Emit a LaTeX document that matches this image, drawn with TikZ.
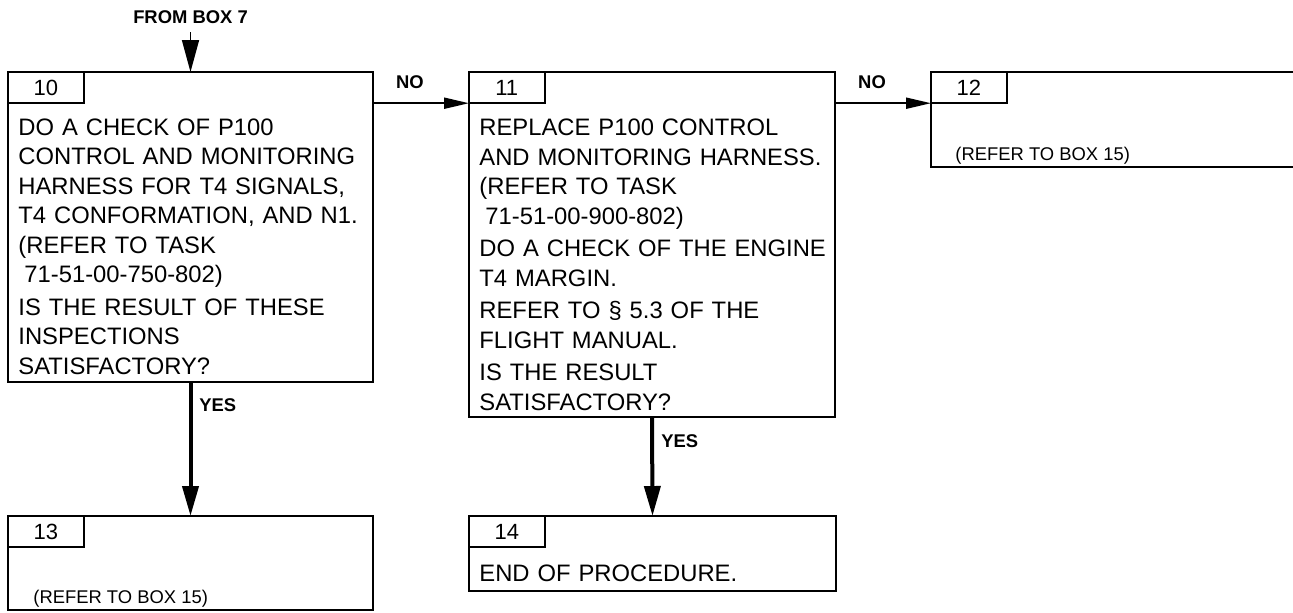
\documentclass[tikz,border=0pt]{standalone}
\usepackage{fontspec}
\setmainfont{Liberation Sans}
\usetikzlibrary{arrows.meta}

\begin{document}
\begin{tikzpicture}[x=0.5pt,y=-0.5pt,
  box/.style={draw,line width=1.4pt,rectangle,inner sep=0pt,outer sep=0pt,anchor=north west},
  tab/.style={draw,line width=0.9pt,rectangle,inner sep=0pt,outer sep=0pt,anchor=north west,
    minimum width=37.8pt,minimum height=15.6pt,font=\fontsize{11}{13}\selectfont},
  body/.style={anchor=base west,inner sep=0pt,text width=190pt,align=left,
    font=\fontsize{11.9}{14.75}\selectfont},
  small/.style={anchor=base west,inner sep=0pt,font=\fontsize{9.2}{11}\selectfont},
  lbl/.style={inner sep=0pt,font=\fontsize{9.2}{11}\selectfont\bfseries},
  yes/.style={line width=2pt,-{Triangle[length=15pt,width=8pt]}},
  no/.style={line width=1pt,-{Triangle[length=12.5pt,width=5.5pt]}},
  from/.style={line width=0.8pt,-{Triangle[length=16pt,width=8.5pt]}}]
\useasboundingbox (0,0) rectangle (1293,612);
\clip (0,0) rectangle (1293,612);

% boxes
\node[box,minimum width=182.5pt,minimum height=155pt] (b10) at (8,72) {};
\node[box,minimum width=183pt,minimum height=172.5pt] (b11) at (469,72) {};
\node[box,minimum width=200pt,minimum height=47.5pt] (b12) at (931,72) {};
\node[box,minimum width=182.5pt,minimum height=47pt] (b13) at (8,516) {};
\node[box,minimum width=183.5pt,minimum height=37.5pt] (b14) at (469,516) {};

% number tabs
\node[tab] (t10) at (b10.north west) {10};
\node[tab] (t11) at (b11.north west) {11};
\node[tab] (t12) at (b12.north west) {12};
\node[tab] (t13) at (b13.north west) {13};
\node[tab] (t14) at (b14.north west) {14};

% box texts
\node[body] (x10) at (18,135) {DO A CHECK OF P100\\
  CONTROL AND MONITORING\\
  HARNESS FOR T4 SIGNALS,\\
  T4 CONFORMATION, AND N1.\\
  (REFER TO TASK\\
  \hspace*{3pt}71-51-00-750-802)\\[1.5pt]
  IS THE RESULT OF THESE\\
  INSPECTIONS\\
  SATISFACTORY?};
\node[body] (x11) at (479,135.5) {REPLACE P100 CONTROL\\
  AND MONITORING HARNESS.\\
  (REFER TO TASK\\
  \hspace*{3pt}71-51-00-900-802)\\[1.5pt]
  DO A CHECK OF THE ENGINE\\
  T4 MARGIN.\\[1.5pt]
  REFER TO § 5.3 OF THE\\
  FLIGHT MANUAL.\\[1.5pt]
  IS THE RESULT\\
  SATISFACTORY?};
\node[small] (x12) at (955,160) {(REFER TO BOX 15)};
\node[small] (x13) at (33,603) {(REFER TO BOX 15)};
\node[body] (x14) at (479,581.5) {END OF PROCEDURE.};

% entry
\node[lbl] (from7) at (190.5,17) {FROM BOX 7};
\coordinate (in7) at (190.5,32);
\draw[from] (in7) -- (b10.north);

% connectors
\draw[no] (t10.south -| b10.east) -- (t11.south west);
\draw[no] (t11.south -| b11.east) -- (t12.south west);
\node[lbl] (no1) at (410,82) {NO};
\node[lbl] (no2) at (872,82) {NO};
\draw[yes] (b10.south) -- (b13.north);
\draw[yes] (b11.south) -- (b14.north);
\node[lbl,anchor=west] (yes1) at (199,405) {YES};
\node[lbl,anchor=west] (yes2) at (661,441) {YES};
\end{tikzpicture}
\end{document}
